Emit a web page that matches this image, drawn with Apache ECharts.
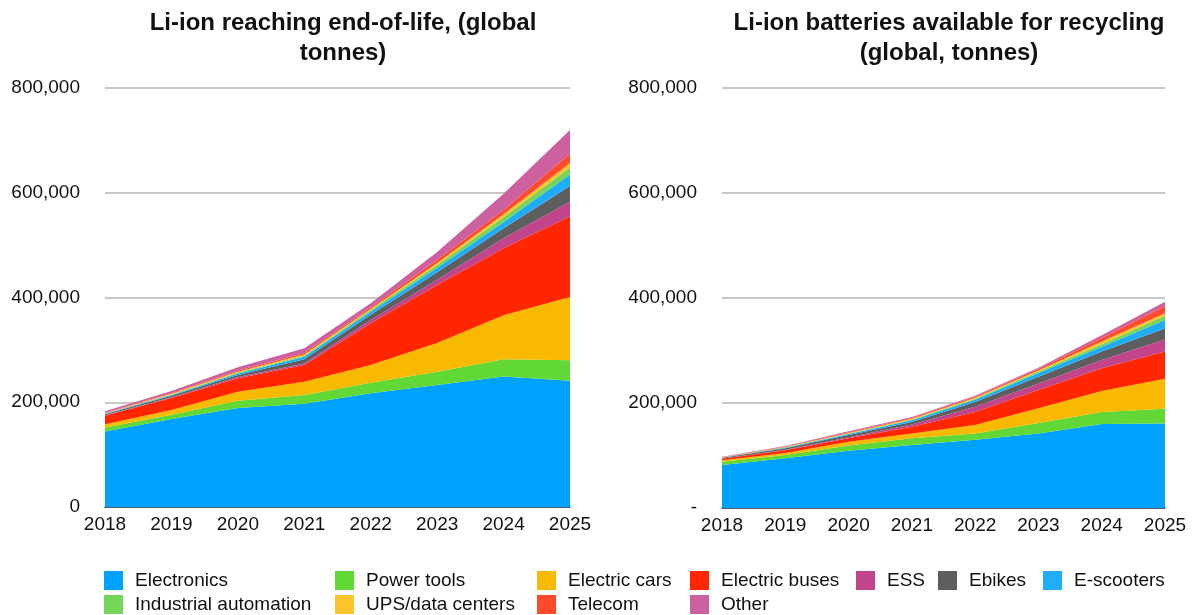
<!DOCTYPE html>
<html><head><meta charset="utf-8">
<script src="https://cdn.jsdelivr.net/npm/echarts@6/dist/echarts.min.js"></script>
<style>html,body{margin:0;padding:0;background:#fff}#c{width:1192px;height:615px}</style>
</head><body><div id="c"></div>
<script>
const years = ['2018','2019','2020','2021','2022','2023','2024','2025'];
const seriesNames = ['Electronics','Power tools','Electric cars','Electric buses','ESS','Ebikes','E-scooters','Industrial automation','UPS/data centers','Telecom','Other'];
const colors = ['#00a2ff','#61d836','#f8ba00','#ff2600','#c2448a','#5e5e5e','#1fadfb','#74d558','#fcc42c','#ff4b2b','#cd619f'];

// Left: Li-ion reaching end-of-life (tonnes)
const eolElectronics = [144000,168000,189000,197000,217000,233000,249000,241000];
const eolPowerTools  = [8000,8000,14000,17000,20000,25000,33000,39000];
const eolCars        = [6000,9000,17000,25000,34000,55000,84000,121000];
const eolBuses       = [16000,23000,26000,32000,80000,111000,128000,154000];
const eolESS         = [1000,1500,2000,3000,6000,10000,19000,28000];
const eolEbikes      = [2000,3000,4000,8000,10000,14000,19000,30000];
const eolEscooters   = [1000,1500,3000,5000,6000,9000,12000,22000];
const eolIndustrial  = [500,1000,1500,2000,3000,5000,9000,13000];
const eolUPS         = [500,1000,1500,2000,2000,4000,6000,9000];
const eolTelecom     = [1000,1500,2000,3000,3000,6000,8000,18000];
const eolOther       = [3000,4000,7000,9000,8000,15000,31000,45000];

// Right: Li-ion batteries available for recycling (tonnes)
const recElectronics = [82000,95000,109000,120000,130000,142000,160000,161000];
const recPowerTools  = [6000,6000,10000,13000,12000,20000,23000,28000];
const recCars        = [3000,4000,7000,9000,16000,28000,40000,57000];
const recBuses       = [3000,5000,7000,13000,25000,35000,43000,52000];
const recESS         = [500,1000,2000,4000,10000,12000,16000,23000];
const recEbikes      = [1000,3000,4000,5000,9000,13000,16000,21000];
const recEscooters   = [500,1000,2000,3000,4000,7000,9000,16000];
const recIndustrial  = [300,500,1000,1500,2000,3000,5000,8000];
const recUPS         = [300,500,1000,1500,2000,2000,5000,5000];
const recTelecom     = [400,1000,1500,2000,2000,3000,7000,14000];
const recOther       = [400,1000,1500,1500,2000,2000,5000,8000];

const eolData = [eolElectronics,eolPowerTools,eolCars,eolBuses,eolESS,eolEbikes,eolEscooters,eolIndustrial,eolUPS,eolTelecom,eolOther];
const recData = [recElectronics,recPowerTools,recCars,recBuses,recESS,recEbikes,recEscooters,recIndustrial,recUPS,recTelecom,recOther];

const fam = '"Liberation Sans", Arial, sans-serif';
function fmt(v){ return v.toLocaleString('en-US'); }

function mkSeries(data, idx, stack){
  return seriesNames.map((n,i)=>({
    name:n, type:'line', stack:stack, xAxisIndex:idx, yAxisIndex:idx,
    data:data[i], symbol:'none', showSymbol:false,
    lineStyle:{width:0}, areaStyle:{color:colors[i], opacity:1},
    itemStyle:{color:colors[i]}, emphasis:{disabled:true}, z:2
  }));
}

const legendPos = [
  [104,571],[335,571],[537,571],[690,571],[856,571],[938,571],[1043,571],
  [104,595],[335,595],[537,595],[690,595]
];
const legends = seriesNames.map((n,i)=>({
  data:[n], left:legendPos[i][0], top:legendPos[i][1], orient:'horizontal',
  itemWidth:19, itemHeight:19, itemGap:0, selectedMode:false,
  icon:'rect', textStyle:{fontFamily:fam, fontSize:19, color:'#111', padding:[0,0,0,7]}, padding:0
}));

const axisCommon = {
  type:'value', min:0, max:800000, interval:200000,
  axisLine:{show:false}, axisTick:{show:false},
  splitLine:{lineStyle:{color:'#c8c8c8', width:2}}
};
const xCommon = {
  type:'category', data:years, boundaryGap:false,
  axisLine:{lineStyle:{color:'#2a3a4a', width:1.5}}, axisTick:{show:false},
  axisLabel:{fontFamily:fam, fontSize:19, color:'#111', margin:8}
};

const chart = echarts.init(document.getElementById('c'), null, {renderer:'canvas'});
chart.setOption({
  animation:false,
  backgroundColor:'#fff',
  title:[
    {text:'Li-ion reaching end-of-life, (global\ntonnes)', left:338, top:3, textAlign:'center',
     textStyle:{fontFamily:fam, fontSize:24, fontWeight:'bold', color:'#111', lineHeight:30}},
    {text:'Li-ion batteries available for recycling\n(global, tonnes)', left:944, top:3, textAlign:'center',
     textStyle:{fontFamily:fam, fontSize:24, fontWeight:'bold', color:'#111', lineHeight:30}}
  ],
  legend: legends,
  grid:[
    {left:105, top:88, width:465, height:419},
    {left:722, top:88, width:443, height:420}
  ],
  xAxis:[
    Object.assign({gridIndex:0}, xCommon),
    Object.assign({gridIndex:1}, xCommon)
  ],
  yAxis:[
    Object.assign({gridIndex:0, axisLabel:{fontFamily:fam, fontSize:19, color:'#111', margin:25, formatter:v=>fmt(v)}}, axisCommon),
    Object.assign({gridIndex:1, axisLabel:{fontFamily:fam, fontSize:19, color:'#111', margin:25, formatter:v=>v===0?'-':fmt(v)}}, axisCommon)
  ],
  series: mkSeries(eolData,0,'eol').concat(mkSeries(recData,1,'rec'))
});
</script></body></html>
